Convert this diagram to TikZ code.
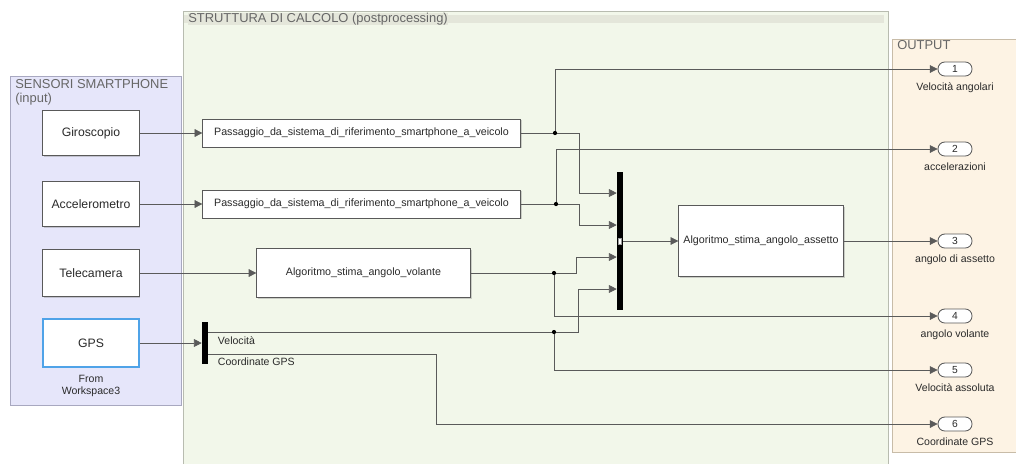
\documentclass[tikz,border=0pt]{standalone}
\usepackage{fontspec}
\setmainfont{Liberation Sans}
\usetikzlibrary{arrows.meta, shadows}

\definecolor{inputbg}{HTML}{E6E6FA}
\definecolor{inputframe}{HTML}{A8A8C0}
\definecolor{calcbg}{HTML}{F2F7EA}
\definecolor{calcbar}{HTML}{E4E6DA}
\definecolor{calcframe}{HTML}{B8BCB0}
\definecolor{outbg}{HTML}{FDF3E4}
\definecolor{outframe}{HTML}{C8BCA8}
\definecolor{wiregrey}{HTML}{5A5A5A}
\definecolor{textgrey}{HTML}{2A2A2A}
\definecolor{gpsblue}{HTML}{4FA3E8}

\tikzset{
	block/.style = {draw = black!65, fill = white, line width = 0.7pt, text = textgrey,
		drop shadow = {shadow xshift = 1pt, shadow yshift = -1pt, opacity = 0.35}},
	bigblock/.style = {block, font = \fontsize{8.7}{10}\selectfont},
	subblock/.style = {block, font = \fontsize{7.6}{9}\selectfont},
	busbar/.style = {fill = black, inner sep = 0pt, minimum width = 0.15cm},
	outport/.style = {draw = black!65, fill = white, line width = 0.6pt, rounded corners = 0.17cm,
		minimum width = 0.85cm, minimum height = 0.35cm, inner sep = 0pt,
		font = \fontsize{7.3}{8}\selectfont, text = textgrey},
	portlabel/.style = {font = \fontsize{7.5}{8.6}\selectfont, text = textgrey},
	areatitle/.style = {anchor = north west, inner sep = 0pt, align = left,
		font = \fontsize{9.2}{10.4}\selectfont, text = black!60},
	wire/.style = {draw = wiregrey, line width = 0.5pt}
}

\begin{document}
\begin{tikzpicture}[x = 0.025cm, y = -0.025cm, > = {Triangle[length = 5.5pt, width = 5.5pt]}]

	\useasboundingbox (0, 0) rectangle (1016, 463);

	% Areas

	\draw [fill = inputbg, draw = inputframe] (10, 76) rectangle (181, 405);
	\draw [fill = calcbg, draw = calcframe] (183, 11) rectangle (888, 470);
	\fill [calcbar] (184, 15) rectangle (884, 23);
	\draw [fill = outbg, draw = outframe] (892, 39) rectangle (1030, 452);

	\node [areatitle] (titlein) at (15, 79) {SENSORI SMARTPHONE\\(input)};
	\node [areatitle, fill = calcbar] (titlecalc) at (188, 13) {STRUTTURA DI CALCOLO (postprocessing)};
	\node [areatitle] (titleout) at (897, 40) {OUTPUT};

	% Sensors

	\node [bigblock, minimum width = 2.4cm, minimum height = 1.13cm] (giro) at (91, 133) {Giroscopio};
	\node [bigblock, minimum width = 2.4cm, minimum height = 1.13cm] (acc) at (91, 204) {Accelerometro};
	\node [bigblock, minimum width = 2.4cm, minimum height = 1.17cm] (tele) at (91, 273) {Telecamera};
	\node [bigblock, minimum width = 2.4cm, minimum height = 1.2cm, draw = gpsblue, line width = 1.1pt] (gps) at (91, 343) {GPS};
	\node [portlabel, align = center, below = 2pt] (gpsname) at (gps.south) {From\\Workspace3};

	% Processing blocks

	\node [subblock, minimum width = 7.93cm, minimum height = 0.7cm] (pass1) at (361.5, 133) {Passaggio\_da\_sistema\_di\_riferimento\_smartphone\_a\_veicolo};
	\node [subblock, minimum width = 7.93cm, minimum height = 0.7cm] (pass2) at (361.5, 204) {Passaggio\_da\_sistema\_di\_riferimento\_smartphone\_a\_veicolo};
	\node [subblock, minimum width = 5.33cm, minimum height = 1.23cm] (vol) at (363.5, 273) {Algoritmo\_stima\_angolo\_volante};
	\node [subblock, minimum width = 4.05cm, minimum height = 1.78cm] (asset) at (761, 241) {Algoritmo\_stima\_angolo\_assetto};

	\node [busbar, minimum height = 3.45cm] (mux) at (620, 241) {};
	\node [busbar, minimum height = 1.05cm] (demux) at (205, 343) {};
	\draw [fill = white, draw = black!40, line width = 0.3pt] (618.5, 238) rectangle (621.5, 244);

	\node [portlabel, anchor = west] (lblvel) at (213, 341) {Velocità};
	\node [portlabel, anchor = west] (lblcoord) at (213, 362) {Coordinate GPS};

	% Outputs

	\node [outport] (out1) at (955, 69) {1};
	\node [outport] (out2) at (955, 149) {2};
	\node [outport] (out3) at (955, 241) {3};
	\node [outport] (out4) at (955, 316) {4};
	\node [outport] (out5) at (955, 370) {5};
	\node [outport] (out6) at (955, 424) {6};

	\node [portlabel, below = 1pt] (lbl1) at (out1.south) {Velocità angolari};
	\node [portlabel, below = 1pt] (lbl2) at (out2.south) {accelerazioni};
	\node [portlabel, below = 1pt] (lbl3) at (out3.south) {angolo di assetto};
	\node [portlabel, below = 1pt] (lbl4) at (out4.south) {angolo volante};
	\node [portlabel, below = 1pt] (lbl5) at (out5.south) {Velocità assoluta};
	\node [portlabel, below = 1pt] (lbl6) at (out6.south) {Coordinate GPS};

	% Branch points

	\coordinate (j1) at (555, 133);
	\coordinate (j2) at (556, 204);
	\coordinate (j3) at (554, 273);
	\coordinate (j4) at (554, 332);

	% Wires

	\begin{scope}[wire]

		\draw (pass1.east) -- (j1);
		\draw (pass2.east) -- (j2);
		\draw (vol.east) -- (j3);
		\draw (demux.east |- j4) -- (j4);

		\begin{scope}[->]

			% Sensors to blocks

			\draw (giro.east) -- (pass1.west);
			\draw (acc.east) -- (pass2.west);
			\draw (tele.east) -- (tele.east -| vol.west);
			\draw (gps.east) -- (demux.west);

			% Into the mux

			\draw (j1) -- (579, 133) |- (mux.west |- 0, 193);
			\draw (j2) -- (579, 204) |- (mux.west |- 0, 225);
			\draw (j3) -- (576, 273) |- (mux.west |- 0, 257);
			\draw (j4) -- (578, 332) |- (mux.west |- 0, 289);
			\draw (mux.east) -- (asset.west);

			% To the outputs

			\draw (j1) |- (out1.west);
			\draw (j2) |- (out2.west);
			\draw (asset.east) -- (out3.west);
			\draw (j3) |- (out4.west);
			\draw (j4) |- (out5.west);
			\draw (demux.east |- 0, 354) -- (436, 354) |- (out6.west);

		\end{scope}

	\end{scope}

	\foreach \j in {j1, j2, j3, j4}
		\fill [black] (\j) circle (1.5pt);

\end{tikzpicture}
\end{document}
